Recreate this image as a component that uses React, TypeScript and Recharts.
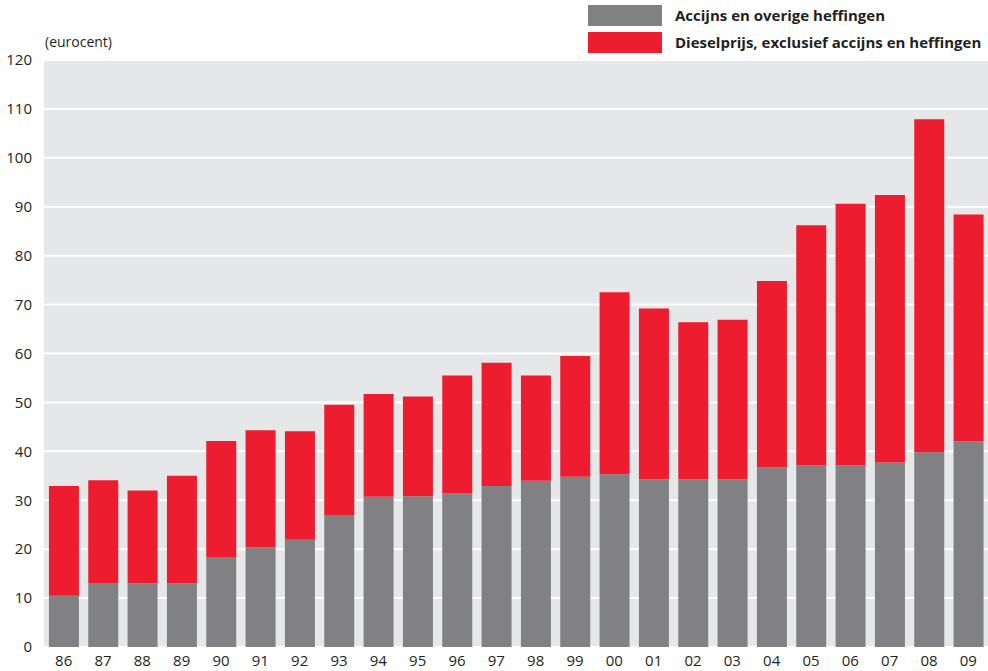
import React from "react";
import { BarChart, Bar, XAxis, YAxis, CartesianGrid } from "recharts";

const years = ["86","87","88","89","90","91","92","93","94","95","96","97","98","99","00","01","02","03","04","05","06","07","08","09"];
const accijns = [10.5,13.1,13.0,13.0,18.4,20.4,21.9,27.0,30.7,30.8,31.4,32.9,34.0,34.8,35.3,34.3,34.3,34.3,36.7,37.1,37.1,37.7,39.8,42.0];
const totaal = [32.9,34.1,32.0,35.0,42.1,44.3,44.1,49.5,51.7,51.2,55.5,58.1,55.5,59.5,72.5,69.2,66.4,66.9,74.8,86.2,90.6,92.4,107.9,88.4];
const yTicks = [0,10,20,30,40,50,60,70,80,90,100,110,120];
const seriesNames = ["Accijns en overige heffingen", "Dieselprijs, exclusief accijns en heffingen"];
const seriesColors = ["#818184", "#ED1C2E"];
const unitLabel = "(eurocent)";

const data = years.map((y, i) => ({
  year: y,
  accijns: accijns[i],
  diesel: +(totaal[i] - accijns[i]).toFixed(2),
}));

const textColor = "#231F20";

export default function App() {
  return (
    <div style={{ position: "absolute", left: 0, top: 0, width: 988, height: 671, background: "#fff", fontFamily: "'Open Sans', sans-serif" }}>
      <div style={{ position: "absolute", left: 45, top: 33, fontSize: 14, fontFamily: "'Liberation Sans Narrow', 'Open Sans', sans-serif", color: textColor, lineHeight: "18px" }}>
        {unitLabel}
      </div>
      {seriesNames.map((n, i) => (
        <div key={n} style={{ position: "absolute", left: 588, top: i === 0 ? 5 : 32, height: 21, display: "flex", alignItems: "center" }}>
          <div style={{ width: 74, height: 21, background: seriesColors[i] }} />
          <div style={{ marginLeft: 13, fontSize: 15, fontWeight: 700, color: textColor, whiteSpace: "nowrap", lineHeight: "21px" }}>{n}</div>
        </div>
      ))}
      <BarChart
        width={988}
        height={671}
        data={data}
        margin={{ top: 60, right: 0, bottom: 0, left: 0 }}
        barCategoryGap="12.5%"
        style={{ position: "absolute", left: 0, top: 0 }}
      >
        <CartesianGrid vertical={false} fill="#E6E7E8" stroke="#FFFFFF" strokeWidth={2} fillOpacity={1} />
        <XAxis
          dataKey="year"
          height={24}
          axisLine={false}
          tickLine={false}
          tickMargin={2}
          interval={0}
          tick={{ fontSize: 15, fill: textColor }}
        />
        <YAxis
          width={44}
          domain={[0, 120]}
          ticks={yTicks}
          axisLine={false}
          tickLine={false}
          tickMargin={6}
          interval={0}
          tick={{ fontSize: 15, fill: textColor }}
        />
        <Bar dataKey="accijns" name={seriesNames[0]} stackId="a" fill={seriesColors[0]} isAnimationActive={false} />
        <Bar dataKey="diesel" name={seriesNames[1]} stackId="a" fill={seriesColors[1]} isAnimationActive={false} />
      </BarChart>
    </div>
  );
}
